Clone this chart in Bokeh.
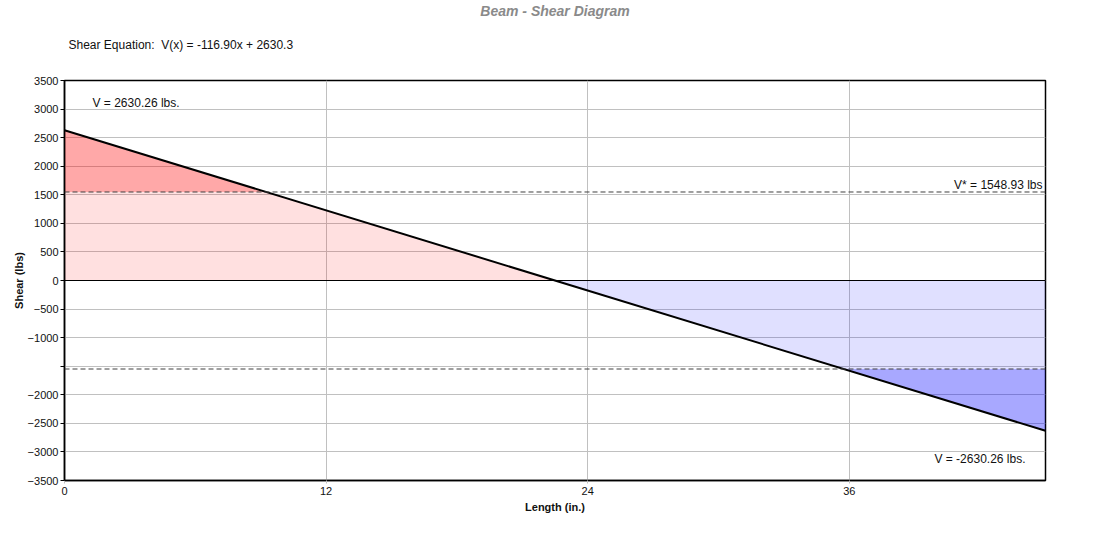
from bokeh.plotting import figure
from bokeh.models import Range1d, Span, Label, FixedTicker, Title
from bokeh.embed import file_html
from bokeh.resources import INLINE

# ---- data ----
beam_x = [0, 45]                 # length (in.)
shear_v = [2630.26, -2630.26]    # shear (lbs)
v_star = 1548.93                 # allowable shear (lbs)
x_ticks = [0, 12, 24, 36]
y_ticks = [-3500, -3000, -2500, -2000, -1500, -1000, -500, 0, 500, 1000, 1500, 2000, 2500, 3000, 3500]
title_text = "Beam - Shear Diagram"
equation_text = "Shear Equation:\u00a0 V(x) = -116.90x + 2630.3"
x_label = "Length (in.)"
y_label = "Shear (lbs)"

FONT = "Liberation Sans"

x0, x1 = beam_x
v0, v1 = shear_v
slope = (v1 - v0) / (x1 - x0)
x_zero = x0 - v0 / slope
x_star_pos = x0 + (v_star - v0) / slope
x_star_neg = x0 + (-v_star - v0) / slope

p = figure(width=1084, height=524, output_backend="svg", toolbar_location=None,
           x_range=Range1d(0, 45), y_range=Range1d(-3500, 3500),
           min_border_left=64, min_border_right=39, min_border_top=0, min_border_bottom=44)
p.background_fill_color = "white"
p.border_fill_color = "white"
p.outline_line_color = "black"
p.outline_line_width = 1.5

# titles (stacked from the frame outward: spacer, equation, main title)
p.title = Title(text=title_text, align="center", text_font=FONT, text_font_size="14px",
                text_font_style="bold italic", text_color="#8a8a8a", standoff=0)
p.add_layout(Title(text=" ", text_font_size="1px", standoff=9), "above")
p.add_layout(Title(text=equation_text, align="left", offset=4, text_font=FONT,
                   text_font_size="12px", text_font_style="normal", text_color="#111111",
                   standoff=34), "above")

# fills
p.patch([x0, x_star_pos, x0], [v0, v_star, v_star], fill_color="#ff0000", fill_alpha=0.34, line_alpha=0)
p.patch([x0, x_star_pos, x_zero, x0], [v_star, v_star, 0, 0], fill_color="#ff0000", fill_alpha=0.12, line_alpha=0)
p.patch([x_zero, x1, x1, x_star_neg], [0, 0, -v_star, -v_star], fill_color="#0000ff", fill_alpha=0.12, line_alpha=0)
p.patch([x_star_neg, x1, x1], [-v_star, -v_star, v1], fill_color="#0000ff", fill_alpha=0.34, line_alpha=0)

# reference lines
p.add_layout(Span(location=0, dimension="width", line_color="black", line_width=1))
p.add_layout(Span(location=v_star, dimension="width", line_color="#404040", line_width=1, line_dash="5 3"))
p.add_layout(Span(location=-v_star, dimension="width", line_color="#404040", line_width=1, line_dash="5 3"))

# shear line
p.line(beam_x, shear_v, line_color="black", line_width=2)

# axes
p.xaxis.ticker = FixedTicker(ticks=x_ticks)
p.yaxis.ticker = FixedTicker(ticks=y_ticks)
p.yaxis.major_label_overrides = {-1500: ""}
for ax in (p.xaxis[0], p.yaxis[0]):
    ax.axis_line_color = "black"
    ax.axis_line_width = 1.5
    ax.minor_tick_line_color = None
    ax.major_label_text_font = FONT
    ax.major_label_text_font_size = "11px"
    ax.major_label_text_color = "#111111"
    ax.axis_label_text_font = FONT
    ax.axis_label_text_font_size = "11px"
    ax.axis_label_text_font_style = "bold"
    ax.axis_label_text_color = "#111111"
p.xaxis.axis_label = x_label
p.yaxis.axis_label = y_label
p.yaxis.major_tick_in = 0
p.yaxis.major_tick_out = 4
p.yaxis.major_tick_line_color = "black"
p.yaxis.major_label_standoff = 2
p.yaxis.axis_label_standoff = 0
p.xaxis.major_tick_in = 0
p.xaxis.major_tick_out = 3
p.xaxis.major_tick_line_color = "#c0c0c0"
p.xaxis.major_label_standoff = 3
p.xaxis.axis_label_standoff = 3

p.grid.grid_line_color = "#c0c0c0"
p.grid.grid_line_width = 1
p.xgrid.ticker = FixedTicker(ticks=x_ticks)
p.ygrid.ticker = FixedTicker(ticks=y_ticks)

# in-frame texts (screen units relative to the frame: x from left, y from bottom)
p.add_layout(Label(x=28, y=378, x_units="screen", y_units="screen", text="V = %.2f lbs." % v0,
                   text_font=FONT, text_font_size="12px", text_color="#111111",
                   text_align="left", text_baseline="middle"))
p.add_layout(Label(x=x1, y=v_star, x_offset=-3, y_offset=0, text="V* = %.2f lbs" % v_star,
                   text_font=FONT, text_font_size="12px", text_color="#111111",
                   text_align="right", text_baseline="bottom"))
p.add_layout(Label(x=961, y=22, x_units="screen", y_units="screen", text="V = %.2f lbs." % v1,
                   text_font=FONT, text_font_size="12px", text_color="#111111",
                   text_align="right", text_baseline="middle"))

open("out.html", "w").write(file_html(p, INLINE))
